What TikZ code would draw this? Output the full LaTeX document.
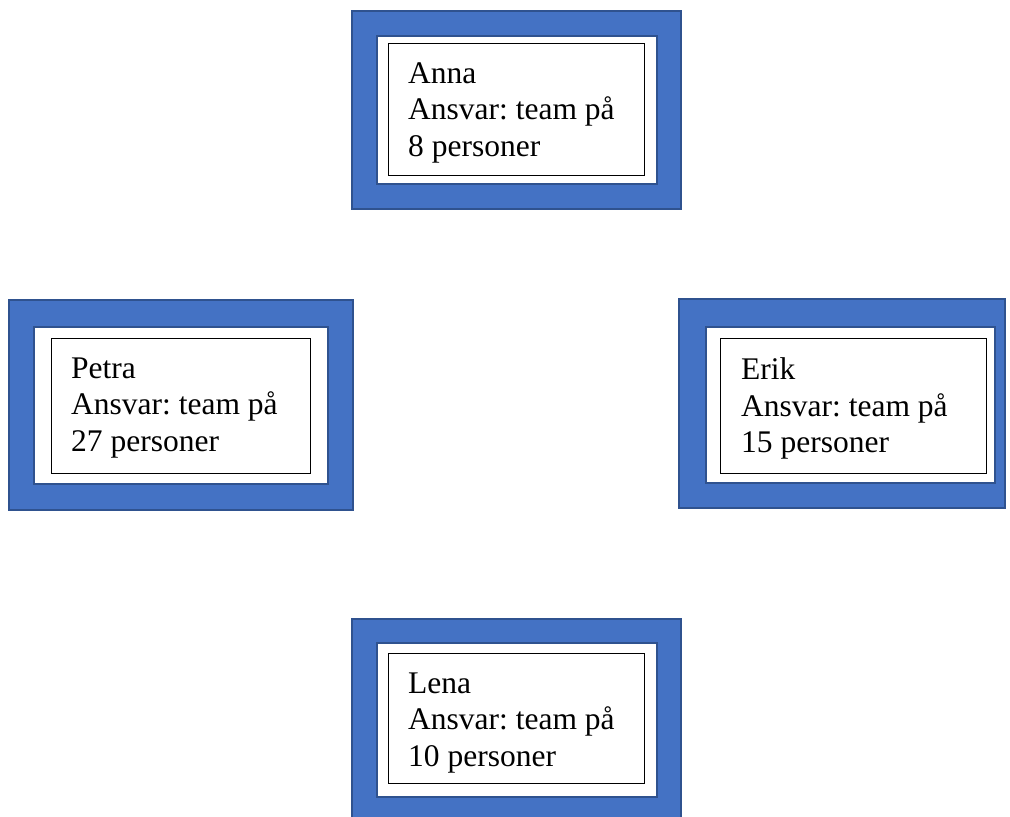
\documentclass[tikz,border=0pt]{standalone}
\usepackage{fontspec}
\setmainfont{Liberation Serif}
\usetikzlibrary{positioning}
\definecolor{cardblue}{HTML}{4472C4}
\definecolor{cardedge}{HTML}{2F528F}
\frenchspacing
\tikzset{
  outerbox/.style={draw=cardedge,fill=cardblue,line width=1.5pt,inner sep=0pt},
  innerbox/.style={draw=cardedge,fill=white,line width=1.5pt,inner sep=0pt},
  namebox/.style={draw=black,line width=0.9pt,inner sep=0pt},
  nametext/.style={anchor=north west,align=left,inner sep=0pt,
    font=\rmfamily\fontsize{31.5}{36.5}\selectfont}
}

\begin{document}
\begin{tikzpicture}[x=1pt,y=1pt]
\useasboundingbox (0,0) rectangle (1010,817);
% Anna
\node[outerbox,minimum width=329,minimum height=198] (anna-out) at (516.5,707) {};
\node[innerbox,minimum width=280,minimum height=148] (anna-in) at (517,707) {};
\node[namebox,minimum width=256,minimum height=132] (anna-box) at (516,708) {};
\node[nametext] (anna) at (408,754.5) {Anna\\Ansvar: team på\\8 personer};
% Petra
\node[outerbox,minimum width=344,minimum height=210] (petra-out) at (181,412) {};
\node[innerbox,minimum width=294,minimum height=157] (petra-in) at (181,411.5) {};
\node[namebox,minimum width=259,minimum height=135] (petra-box) at (180.5,411.5) {};
\node[nametext] (petra) at (71,459.5) {Petra\\Ansvar: team på\\27 personer};
% Erik
\node[outerbox,minimum width=326,minimum height=209] (erik-out) at (842,413.5) {};
\node[innerbox,minimum width=289,minimum height=156] (erik-in) at (850.5,412) {};
\node[namebox,minimum width=266,minimum height=135] (erik-box) at (853,411.5) {};
\node[nametext] (erik) at (741,459.5) {Erik\\Ansvar: team på\\15 personer};
% Lena
\node[outerbox,minimum width=329,minimum height=200] (lena-out) at (516.5,98) {};
\node[innerbox,minimum width=280,minimum height=154] (lena-in) at (517,97) {};
\node[namebox,minimum width=256,minimum height=130] (lena-box) at (516,99) {};
\node[nametext] (lena) at (408,144.5) {Lena\\Ansvar: team på\\10 personer};
\end{tikzpicture}
\end{document}
